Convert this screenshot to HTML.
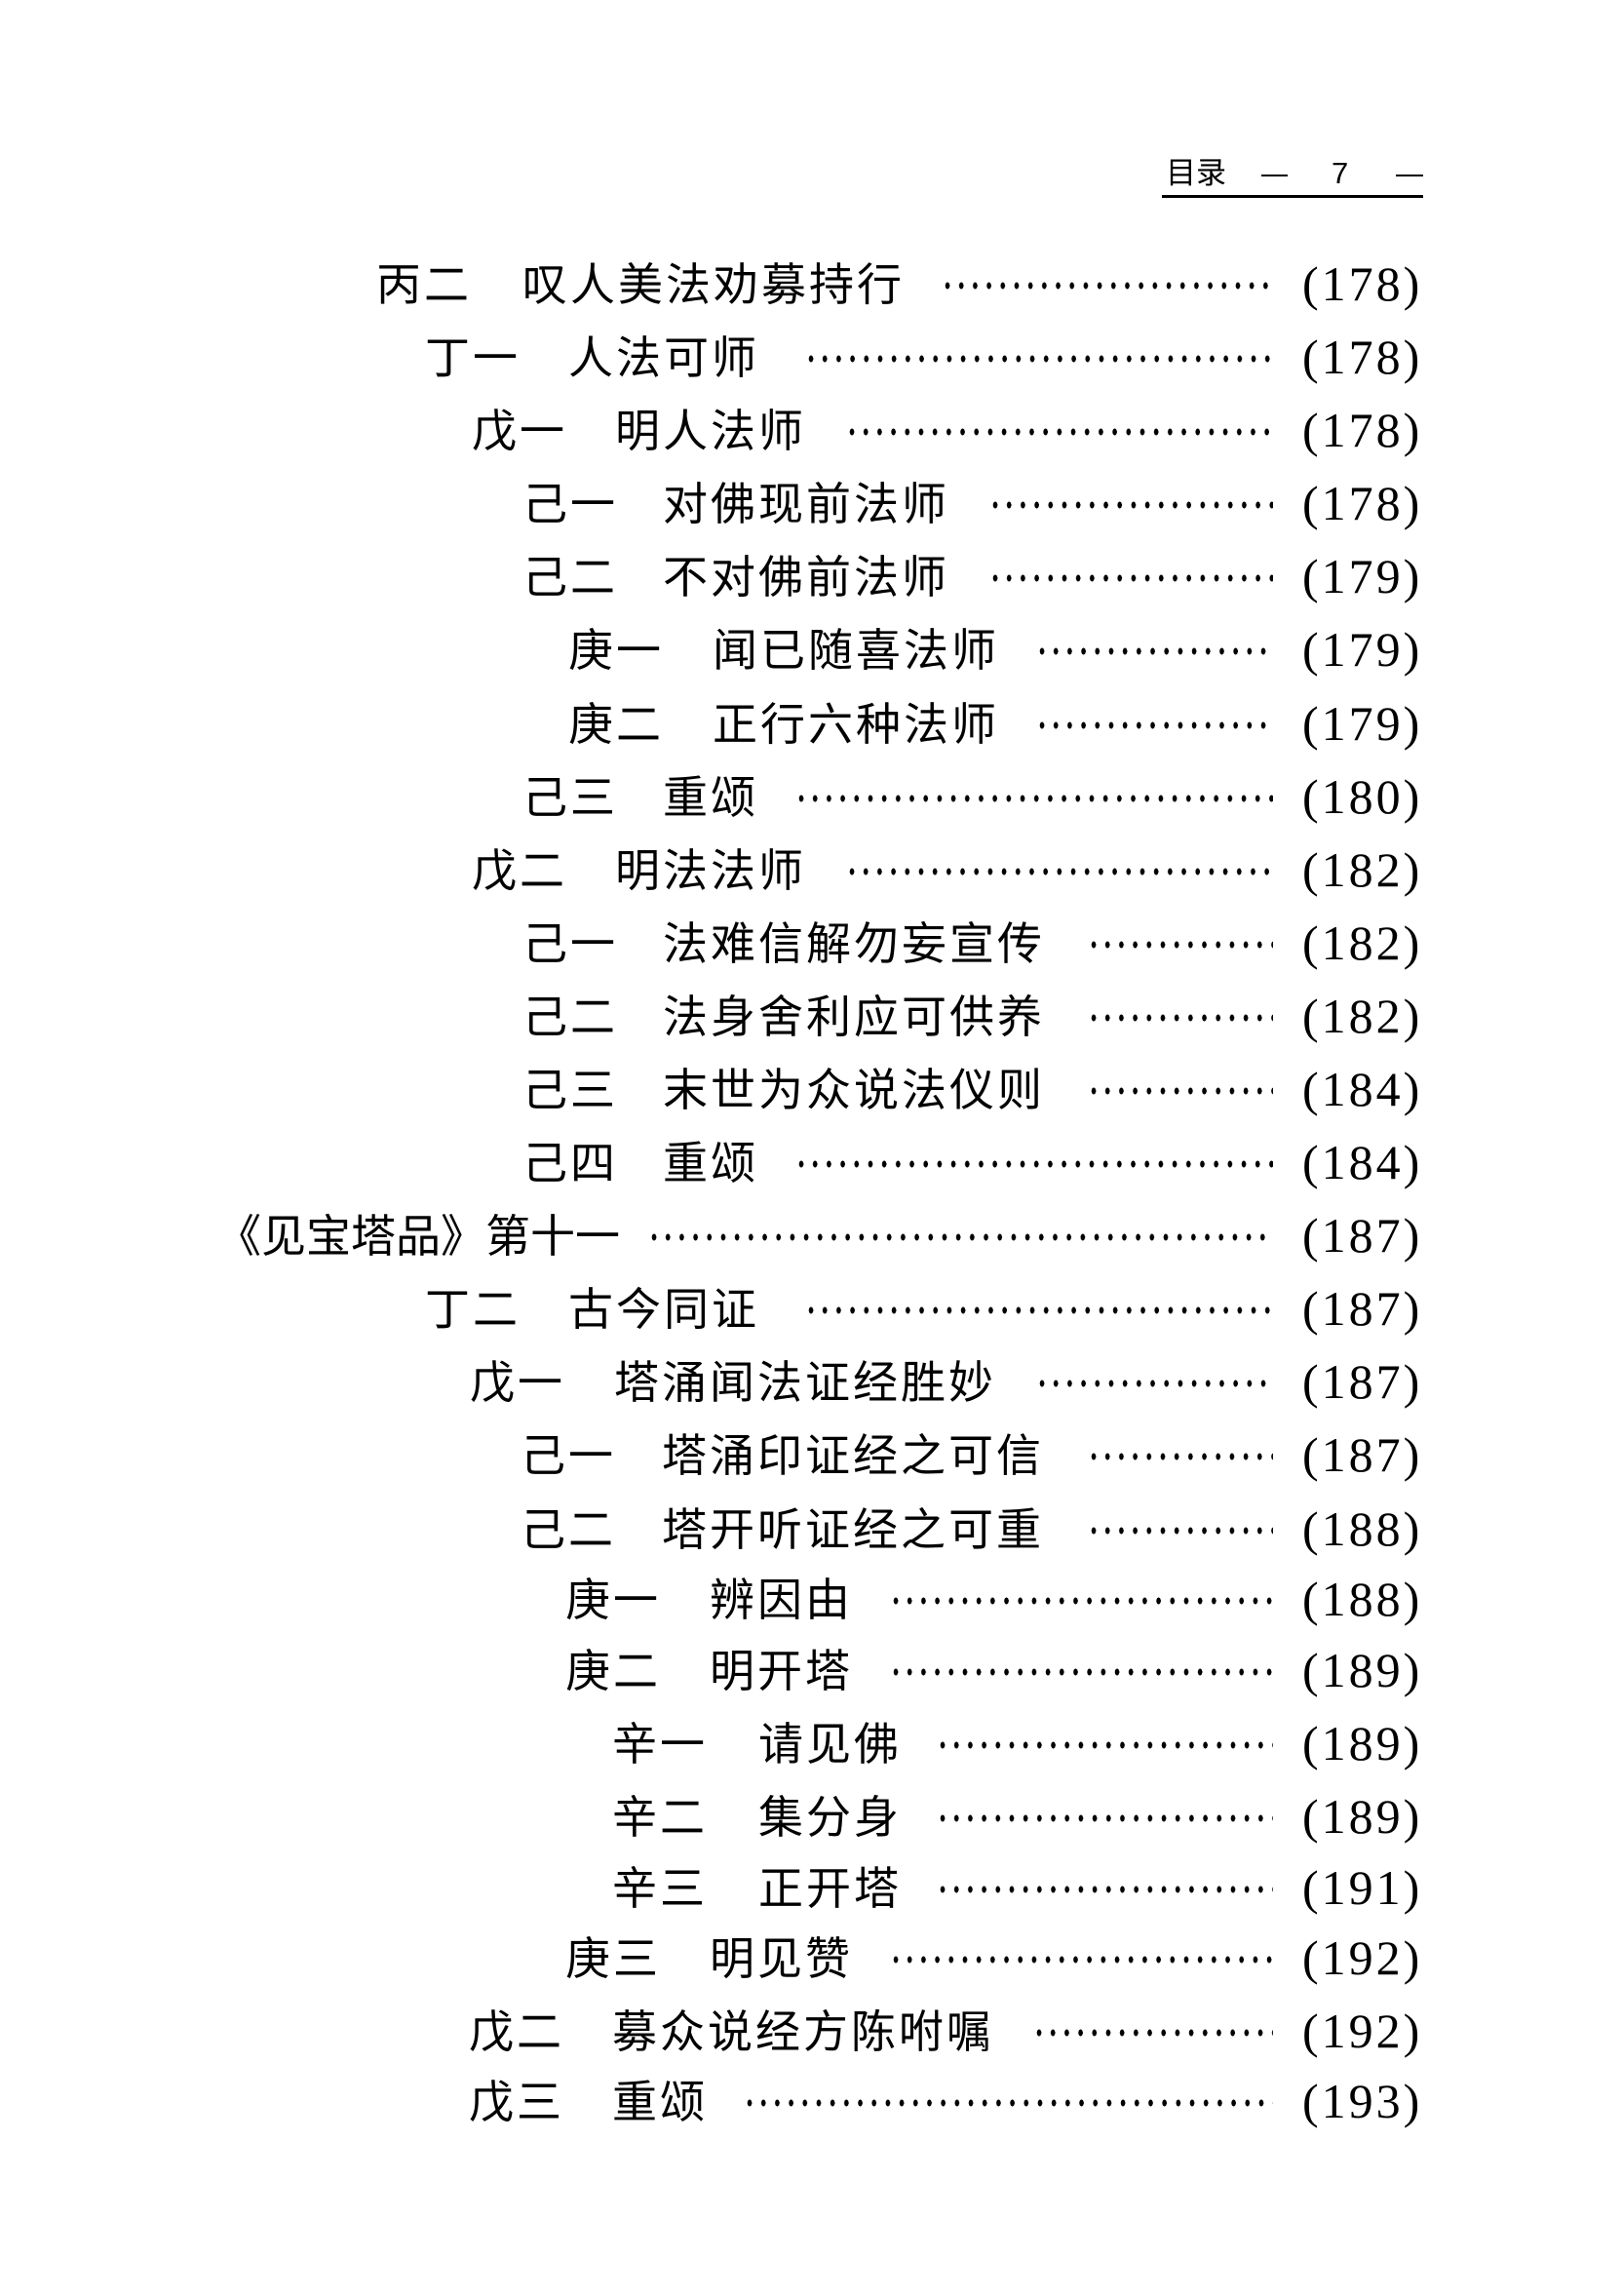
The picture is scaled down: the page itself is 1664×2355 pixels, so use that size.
<!DOCTYPE html>
<html><head><meta charset="utf-8"><style>
html,body{margin:0;padding:0;background:#fff;}
body{width:1664px;height:2355px;position:relative;overflow:hidden;font-family:"Liberation Sans","Noto Sans CJK SC",sans-serif;color:#000;}
.t{position:absolute;font-size:46px;line-height:60px;height:60px;white-space:nowrap;letter-spacing:3px;}
.d{position:absolute;height:8px;background:radial-gradient(ellipse 2.4px 3.6px at 3px 4px,#000 90%,transparent 100%) repeat-x;background-size:14.2px 8px;}
.n{position:absolute;left:1336px;font-family:"Liberation Serif",serif;font-size:50px;line-height:60px;height:60px;letter-spacing:3px;}
</style></head><body>
<div style="position:absolute;left:1196px;top:158px;font-size:31px;line-height:40px;">目录</div>
<div style="position:absolute;left:1294px;top:179px;width:27px;height:2px;background:#000"></div>
<div style="position:absolute;left:1366px;top:158px;font-size:31px;line-height:40px;font-family:'Liberation Sans',sans-serif;">7</div>
<div style="position:absolute;left:1432px;top:179px;width:28px;height:2px;background:#000"></div>
<div style="position:absolute;left:1192px;top:200px;width:268px;height:3px;background:#000"></div>
<div id="c"></div>
<script>
var rows=[
[386,536,"丙二","叹人美法劝募持行",645,"(178)"],
[436,583,"丁一","人法可师",552,"(178)"],
[484,631,"戊一","明人法师",580,"(178)"],
[536,680,"己一","对佛现前法师",678,"(178)"],
[536,680,"己二","不对佛前法师",678,"(179)"],
[583,731,"庚一","闻已随喜法师",710,"(179)"],
[583,731,"庚二","正行六种法师",710,"(179)"],
[536,680,"己三","重颂",545,"(180)"],
[484,631,"戊二","明法法师",580,"(182)"],
[536,680,"己一","法难信解勿妄宣传",745,"(182)"],
[536,680,"己二","法身舍利应可供养",745,"(182)"],
[536,680,"己三","末世为众说法仪则",745,"(184)"],
[536,680,"己四","重颂",545,"(184)"],
[222,0,"《见宝塔品》第十一","",445,"(187)"],
[436,583,"丁二","古今同证",552,"(187)"],
[482,630,"戊一","塔涌闻法证经胜妙",710,"(187)"],
[534,679,"己一","塔涌印证经之可信",745,"(187)"],
[534,679,"己二","塔开听证经之可重",745,"(188)"],
[580,728,"庚一","辨因由",610,"(188)"],
[580,728,"庚二","明开塔",610,"(189)"],
[628,778,"辛一","请见佛",642,"(189)"],
[628,778,"辛二","集分身",642,"(189)"],
[628,778,"辛三","正开塔",642,"(191)"],
[580,728,"庚三","明见赞",610,"(192)"],
[481,628,"戊二","募众说经方陈咐嘱",708,"(192)"],
[481,628,"戊三","重颂",510,"(193)"]];
var cy=[293,368,443,518,593,668,744,819,894,969,1044,1119,1194,1269,1344,1419,1494,1570,1642,1715,1790,1865,1938,2010,2085,2157];
var h="";
rows.forEach(function(r,i){var y=cy[i];var top=y-31;
h+='<div class="t" style="left:'+r[0]+'px;top:'+top+'px;'+(i==13?'letter-spacing:0':'')+'">'+r[2]+'</div>';
if(r[3])h+='<div class="t" style="left:'+r[1]+'px;top:'+top+'px">'+r[3]+'</div>';
var x0=Math.round(r[4]*1.502);
h+='<div class="d" style="left:'+x0+'px;top:'+(y-4)+'px;width:'+(1306-x0)+'px"></div>';
h+='<div class="n" style="top:'+(y-32)+'px">'+r[5]+'</div>';});
document.getElementById("c").innerHTML=h;
</script>
</body></html>
